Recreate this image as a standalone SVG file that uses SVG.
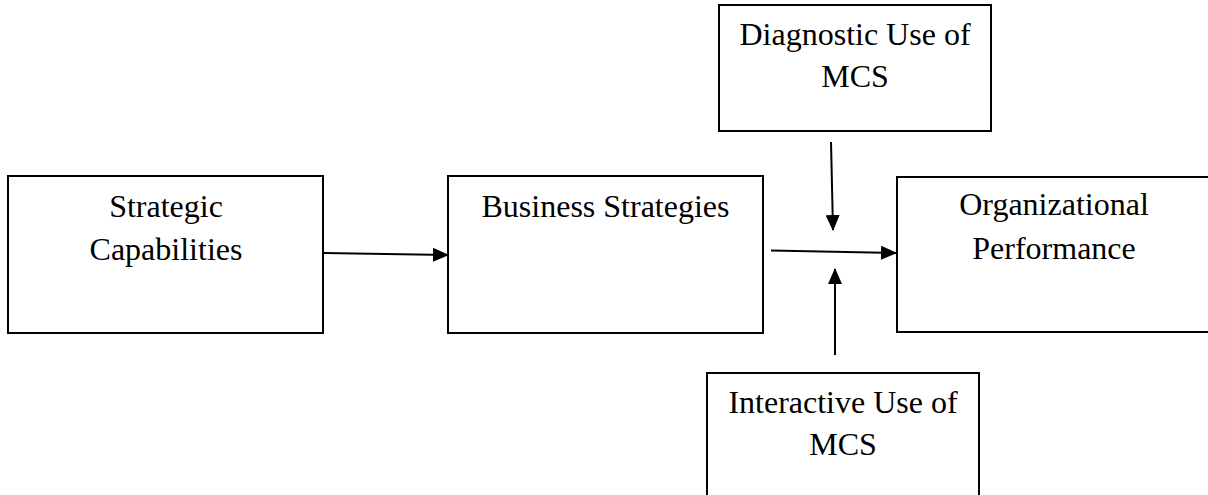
<svg xmlns="http://www.w3.org/2000/svg" width="1208" height="495" viewBox="0 0 1208 495">
  <style>
    .box { fill: #ffffff; stroke: #000000; stroke-width: 2; }
    .label { font-family: "Liberation Serif", "Times New Roman", serif; font-size: 32px; fill: #000000; text-anchor: middle; }
    .link { fill: none; stroke: #000000; stroke-width: 2; }
  </style>
  <defs>
    <marker id="arrow" viewBox="0 0 16 14" refX="15" refY="7" markerWidth="16" markerHeight="14" markerUnits="userSpaceOnUse" orient="auto">
      <path d="M0,0 L16,7 L0,14 Z" fill="#000000"/>
    </marker>
  </defs>

  <rect width="1208" height="495" fill="#ffffff"/>

  <g id="strategic-capabilities">
    <rect class="box" x="8" y="176" width="315" height="157"/>
    <text class="label" x="166" y="217">Strategic</text>
    <text class="label" x="166" y="260">Capabilities</text>
  </g>

  <g id="business-strategies">
    <rect class="box" x="448" y="176" width="315" height="157"/>
    <text class="label" x="605.5" y="217">Business Strategies</text>
  </g>

  <g id="diagnostic-use">
    <rect class="box" x="719" y="5" width="272" height="126"/>
    <text class="label" x="855" y="45">Diagnostic Use of</text>
    <text class="label" x="855" y="87">MCS</text>
  </g>

  <g id="organizational-performance">
    <rect class="box" x="897" y="177" width="315" height="155"/>
    <text class="label" x="1054" y="215">Organizational</text>
    <text class="label" x="1054" y="259">Performance</text>
  </g>

  <g id="interactive-use">
    <rect class="box" x="707" y="373" width="272" height="140"/>
    <text class="label" x="843" y="413">Interactive Use of</text>
    <text class="label" x="843" y="455">MCS</text>
  </g>

  <g id="connectors">
    <line class="link" x1="324" y1="253" x2="448" y2="255" marker-end="url(#arrow)"/>
    <line class="link" x1="771" y1="250.5" x2="896" y2="253" marker-end="url(#arrow)"/>
    <line class="link" x1="831" y1="142" x2="833" y2="230" marker-end="url(#arrow)"/>
    <line class="link" x1="835" y1="355" x2="835" y2="269" marker-end="url(#arrow)"/>
  </g>
</svg>
